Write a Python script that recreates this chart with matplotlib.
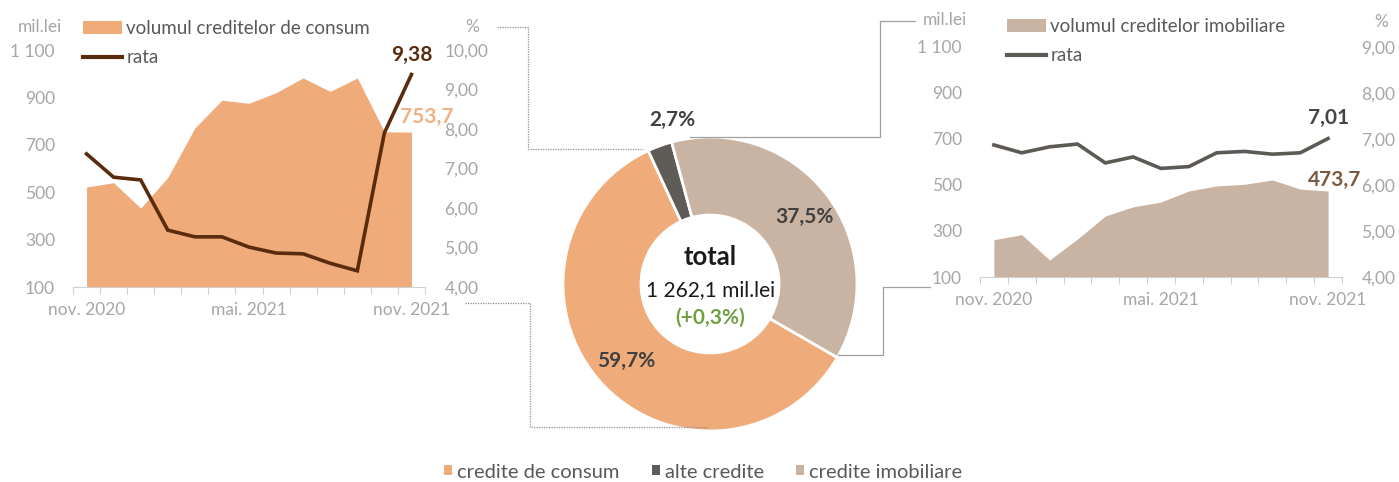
import numpy as np
import matplotlib.pyplot as plt
from matplotlib.patches import Patch
from matplotlib.lines import Line2D

plt.rcParams['font.family'] = ['Lato', 'DejaVu Sans']

# data
months = ['nov. 2020', 'dec.', 'ian. 2021', 'feb.', 'mar.', 'apr.', 'mai. 2021',
          'iun.', 'iul.', 'aug.', 'sep.', 'oct.', 'nov. 2021']
tick_labels = {0: 'nov. 2020', 6: 'mai. 2021', 12: 'nov. 2021'}

consum_volum = [522, 540, 433, 562, 771, 888, 875, 920, 982, 925, 982, 755, 753.7]
consum_rata = [7.37, 6.78, 6.71, 5.44, 5.27, 5.27, 5.01, 4.86, 4.84, 4.60, 4.41, 7.90, 9.38]

imob_volum = [262, 284, 174, 265, 365, 405, 426, 474, 496, 503, 522, 482, 473.7]
imob_rata = [6.87, 6.70, 6.83, 6.89, 6.48, 6.61, 6.36, 6.40, 6.70, 6.73, 6.67, 6.70, 7.01]

pie_names = ['credite de consum', 'alte credite', 'credite imobiliare']
pie_share = [59.7, 2.7, 37.5]
pie_labels = ['59,7%', '2,7%', '37,5%']

C_CONS = '#EFAB79'
C_CONS_TXT = '#F2B083'
C_CONS_LINE = '#5A2C0D'
C_IMOB = '#C9B3A2'
C_IMOB_LINE = '#5D5955'
C_ALTE = '#5F5B56'
C_GRAY = '#A6A6A6'
C_TEXT = '#595959'

TICK_FS = 12.5

W, H = 1399, 482
fig = plt.figure(figsize=(W / 100, H / 100), dpi=100)


def px(x, y):
    return x / W, 1 - y / H


def box(x0, y0, x1, y1):
    return [x0 / W, 1 - y1 / H, (x1 - x0) / W, (y1 - y0) / H]


def fmt_left(v):
    return f'{int(v):,}'.replace(',', ' ')


def fmt_right(v):
    return f'{v:.2f}'.replace('.', ',')


def line_panel(rect, volum, rata, rlim, colors, legend_label, legend_xy):
    area_c, line_c = colors
    x = np.arange(len(volum))
    ax = fig.add_axes(rect)
    ax.fill_between(x, volum, 100, color=area_c, lw=0)
    ax.set_xlim(-0.5, len(volum) - 0.5)
    ax.set_ylim(100, 1100)
    yt = np.arange(100, 1101, 200)
    ax.set_yticks(yt)
    ax.set_yticklabels([fmt_left(v) for v in yt])
    ax.set_xticks(np.arange(-0.5, len(volum), 1))
    ax.set_xticklabels([])
    ax.set_xticks(list(tick_labels.keys()), minor=True)
    ax.set_xticklabels(list(tick_labels.values()), minor=True)
    ax.tick_params(axis='x', which='major', length=5, color='#D0D0D0', direction='out')
    ax.tick_params(axis='x', which='minor', length=0, pad=11, labelsize=TICK_FS,
                   labelcolor=C_GRAY)
    ax.tick_params(axis='y', length=0, pad=13, labelsize=TICK_FS, labelcolor=C_GRAY)
    for s in ['top', 'right', 'left']:
        ax.spines[s].set_visible(False)
    ax.spines['bottom'].set_color('#D0D0D0')

    ax2 = ax.twinx()
    ax2.plot(x, rata, color=line_c, lw=2.6, solid_joinstyle='miter')
    ax2.set_ylim(*rlim)
    rt = np.arange(rlim[0], rlim[1] + 0.01, 1.0)
    ax2.set_yticks(rt)
    ax2.set_yticklabels([fmt_right(v) for v in rt])
    ax2.tick_params(axis='y', length=0, pad=14, labelsize=TICK_FS, labelcolor=C_GRAY)
    for s in ax2.spines.values():
        s.set_visible(False)

    handles = [Patch(facecolor=area_c, edgecolor='none'),
               Line2D([], [], color=line_c, lw=3)]
    fig.legend(handles, [legend_label, 'rata'], loc='upper left',
               bbox_to_anchor=px(*legend_xy), frameon=False, fontsize=13.5,
               labelcolor=C_TEXT, handlelength=2.1, handleheight=0.7,
               handletextpad=0.2, borderpad=0, borderaxespad=0, labelspacing=0.65)
    return ax, ax2


# left panel: consumer credits
axl, axl2 = line_panel(box(73, 50, 425, 287), consum_volum, consum_rata, (4, 10),
                       (C_CONS, C_CONS_LINE), 'volumul creditelor de consum', (83, 20))
n = len(consum_rata) - 1
axl2.annotate(fmt_right(consum_rata[-1]), (n, consum_rata[-1]), xytext=(0, 14),
              textcoords='offset points', ha='center', va='center',
              fontsize=15, fontweight='bold', color=C_CONS_LINE)
axl.annotate(f'{consum_volum[-1]:.1f}'.replace('.', ','), (n, consum_volum[-1]),
             xytext=(11, 11), textcoords='offset points', ha='center', va='center',
             fontsize=15, fontweight='bold', color=C_CONS_TXT)
fig.text(*px(40, 27), 'mil.lei', ha='center', va='center', fontsize=TICK_FS, color=C_GRAY)
fig.text(*px(472, 27), '%', ha='center', va='center', fontsize=TICK_FS, color=C_GRAY)

# right panel: real-estate credits
axr, axr2 = line_panel(box(980, 47, 1342, 277), imob_volum, imob_rata, (4, 9),
                       (C_IMOB, C_IMOB_LINE), 'volumul creditelor imobiliare', (1007, 18))
axr2.annotate(fmt_right(imob_rata[-1]), (n, imob_rata[-1]), xytext=(0, 15),
              textcoords='offset points', ha='center', va='center',
              fontsize=15, fontweight='bold', color='#454545')
axr.annotate(f'{imob_volum[-1]:.1f}'.replace('.', ','), (n, imob_volum[-1]),
             xytext=(5, 8), textcoords='offset points', ha='center', va='center',
             fontsize=15, fontweight='bold', color='#7A5A40')
fig.text(*px(945, 20), 'mil.lei', ha='center', va='center', fontsize=TICK_FS, color=C_GRAY)
fig.text(*px(1381, 22), '%', ha='center', va='center', fontsize=TICK_FS, color=C_GRAY)

# donut
cx, cy, r = 710, 284, 150
axp = fig.add_axes(box(cx - r, cy - r, cx + r, cy + r))
wedges, _ = axp.pie(pie_share, colors=[C_CONS, C_ALTE, C_IMOB], radius=0.98,
                    startangle=-30, counterclock=False,
                    wedgeprops=dict(width=0.52, edgecolor='white', linewidth=2))
axp.set_xlim(-1, 1)
axp.set_ylim(-1, 1)
axp.set_aspect('equal')
axp.axis('off')
for w, lab, dist, shift in zip(wedges, pie_labels, [0.76, 1.12, 0.77], [0, -7, -2]):
    ang = np.deg2rad((w.theta1 + w.theta2) / 2 + shift)
    axp.text(dist * np.cos(ang), dist * np.sin(ang), lab, ha='center', va='center',
             fontsize=15, fontweight='bold', color='#404040')
axp.text(0, 0.18, 'total', ha='center', va='center', fontsize=18.5, fontweight='bold',
         color='#1a1a1a')
axp.text(0, -0.04, '1 262,1 mil.lei', ha='center', va='center', fontsize=15,
         color='#1a1a1a')
axp.text(0, -0.225, '(+0,3%)', ha='center', va='center', fontsize=15,
         fontweight='bold', color='#70A043')

# connector lines between the panels and the donut
def connector(pts, style, color):
    xs = [p[0] / W for p in pts]
    ys = [1 - p[1] / H for p in pts]
    fig.add_artist(Line2D(xs, ys, transform=fig.transFigure, lw=0.9,
                          ls=style, color=color))


connector([(497, 27), (528, 27), (528, 149), (643, 149)], (0, (1, 1)), '#909090')
connector([(465, 303), (530, 303), (530, 427), (707, 427)], (0, (1, 1)), '#909090')
connector([(915, 21), (880, 21), (880, 137), (690, 137)], '-', '#A0A0A0')
connector([(838, 355), (883, 355), (883, 287), (930, 287)], '-', '#A0A0A0')

# bottom legend
pie_handles = [Patch(facecolor=c, edgecolor='none') for c in [C_CONS, C_ALTE, C_IMOB]]
fig.legend(pie_handles, pie_names, loc='center', bbox_to_anchor=px(703, 472),
           ncol=3, frameon=False, fontsize=14.5, labelcolor=C_TEXT,
           handlelength=0.4, handleheight=0.4, handletextpad=0.25, columnspacing=1.6)

fig.savefig('out.png', dpi=100)
